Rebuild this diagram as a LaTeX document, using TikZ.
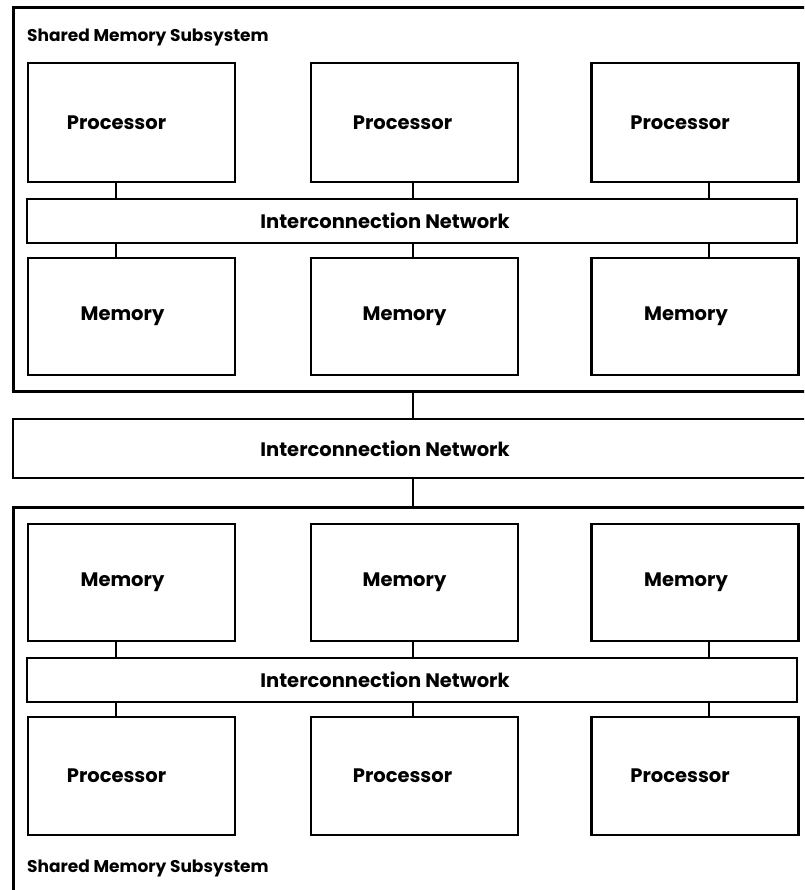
\documentclass[tikz,border=0pt]{standalone}
\usepackage{fontspec}
\setmainfont{Poppins}
\usetikzlibrary{positioning}

\tikzset{
  outerbox/.style={draw, line width=3pt, inner sep=0pt},
  unitbox/.style={draw, line width=2.2pt, inner sep=0pt, minimum width=207pt},
  netbox/.style={draw, line width=2.2pt, inner sep=0pt, minimum height=44pt},
  every label/.style={font=\bfseries\fontsize{19.5}{22}\selectfont},
  link/.style={line width=2pt},
  title/.style={anchor=west, inner sep=0pt, font=\bfseries\fontsize{17}{19}\selectfont}
}

\begin{document}
\begin{tikzpicture}[x=1pt, y=-1pt]

    \useasboundingbox (0,0) rectangle (804,890);
    \clip (0,0) rectangle (804,890);

    % columns where the links meet the networks
    \coordinate (tap1) at (116,0);
    \coordinate (tap2) at (413,0);
    \coordinate (tap3) at (709,0);

    % Draw the upper subsystem
    \node[outerbox, minimum width=817pt, minimum height=383pt] (sysA) at (421.5,199.5) {};
    \node[title] (nameA) at (27,37) {Shared Memory Subsystem};

    \node[unitbox, minimum height=119pt, label={[xshift=-15pt]center:Processor}] (procA1) at (131.5,122.5) {};
    \node[unitbox, minimum height=119pt, label={[xshift=-12pt]center:Processor}] (procA2) at (414.5,122.5) {};
    \node[unitbox, minimum height=119pt, label={[xshift=-15pt]center:Processor}] (procA3) at (695,122.5) {};

    \node[netbox, minimum width=770pt, label={[xshift=-27pt]center:Interconnection Network}] (netA) at (412,221) {};

    \node[unitbox, minimum height=117pt, label={[xshift=-9pt]center:Memory}] (memA1) at (131.5,316.5) {};
    \node[unitbox, minimum height=117pt, label={[xshift=-10pt]center:Memory}] (memA2) at (414.5,316.5) {};
    \node[unitbox, minimum height=117pt, label={[xshift=-9pt]center:Memory}] (memA3) at (695,316.5) {};

    \foreach \i in {1,2,3} {
        \draw[link] (procA\i.south -| tap\i) -- (netA.north -| tap\i);
        \draw[link] (netA.south -| tap\i) -- (memA\i.north -| tap\i);
    }

    % Draw the network between the two subsystems
    \node[netbox, minimum width=817pt, minimum height=59pt,
          label={[xshift=-36.5pt]center:Interconnection Network}] (netM) at (421.5,448.5) {};

    % Draw the lower subsystem
    \node[outerbox, minimum width=817pt, minimum height=403pt] (sysB) at (421.5,708.5) {};
    \node[title] (nameB) at (27,868) {Shared Memory Subsystem};

    \node[unitbox, minimum height=117pt, label={[xshift=-9pt]center:Memory}] (memB1) at (131.5,582.5) {};
    \node[unitbox, minimum height=117pt, label={[xshift=-10pt]center:Memory}] (memB2) at (414.5,582.5) {};
    \node[unitbox, minimum height=117pt, label={[xshift=-9pt]center:Memory}] (memB3) at (695,582.5) {};

    \node[netbox, minimum width=770pt, label={[xshift=-27pt]center:Interconnection Network}] (netB) at (412,680) {};

    \node[unitbox, minimum height=118pt, label={[xshift=-15pt]center:Processor}] (procB1) at (131.5,776) {};
    \node[unitbox, minimum height=118pt, label={[xshift=-12pt]center:Processor}] (procB2) at (414.5,776) {};
    \node[unitbox, minimum height=118pt, label={[xshift=-15pt]center:Processor}] (procB3) at (695,776) {};

    \foreach \i in {1,2,3} {
        \draw[link] (memB\i.south -| tap\i) -- (netB.north -| tap\i);
        \draw[link] (netB.south -| tap\i) -- (procB\i.north -| tap\i);
    }

    % links to the middle network
    \draw[link] (sysA.south -| tap2) -- (netM.north -| tap2);
    \draw[link] (netM.south -| tap2) -- (sysB.north -| tap2);

\end{tikzpicture}
\end{document}
